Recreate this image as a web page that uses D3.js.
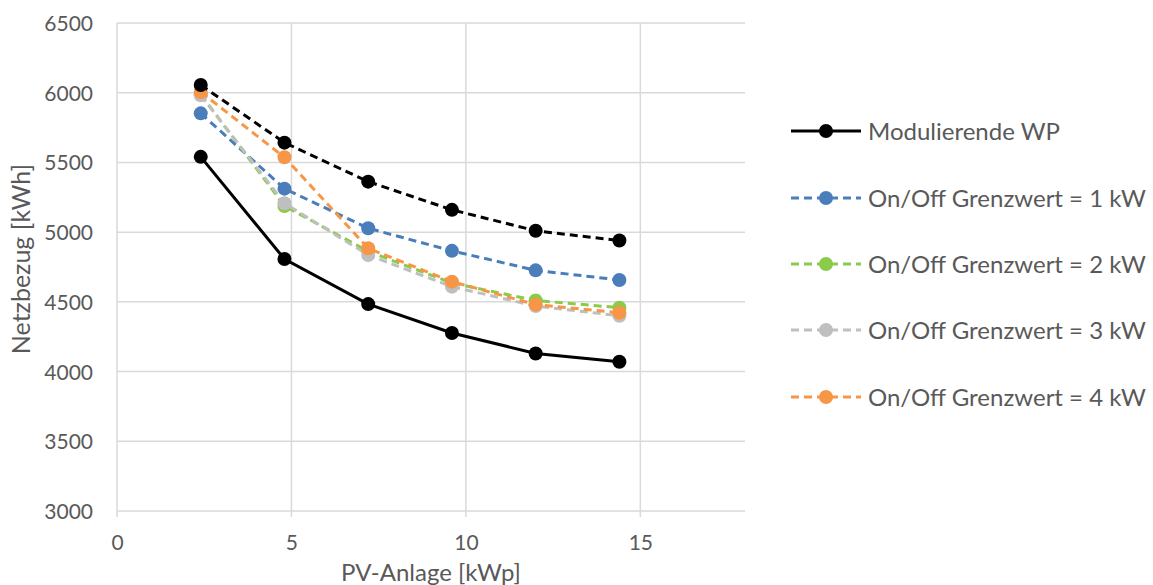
<!DOCTYPE html>
<html><head><meta charset="utf-8">
<script src="https://cdn.jsdelivr.net/npm/d3@7"></script>
<style>body{margin:0;background:#fff}svg{display:block}text{font-family:Lato,"Open Sans",sans-serif;fill:#595959}</style>
</head><body><svg id="c" width="1153" height="585"></svg>
<script>
const pvSizes = [2.4, 4.8, 7.2, 9.6, 12, 14.4];
const seriesNames = ["Modulierende WP","On/Off Grenzwert = 1 kW","On/Off Grenzwert = 2 kW","On/Off Grenzwert = 3 kW","On/Off Grenzwert = 4 kW",""];
const modulierend = [5540, 4807, 4484, 4277, 4130, 4070];
const onOff1 = [5852, 5312, 5028, 4866, 4726, 4657];
const onOff2 = [5988, 5188, 4862, 4635, 4510, 4458];
const onOff3 = [5982, 5207, 4836, 4609, 4470, 4400];
const onOff4 = [6005, 5537, 4884, 4645, 4480, 4422];
const unlabeled = [6055, 5642, 5362, 5160, 5010, 4940];
const xTicks = [0, 5, 10, 15];
const yTicks = [3000, 3500, 4000, 4500, 5000, 5500, 6000, 6500];
const xTitle = "PV-Anlage [kWp]";
const yTitle = "Netzbezug [kWh]";

const colors = ["#000000","#4a7ebb","#8acb4a","#bfbfbf","#f79646","#000000"];
const dashed = [false,true,true,true,true,true];
const values = [modulierend,onOff1,onOff2,onOff3,onOff4,unlabeled];
const inLegend = [true,true,true,true,true,false];

const svg = d3.select("#c");
const x = d3.scaleLinear().domain([0,18]).range([117,745]);
const y = d3.scaleLinear().domain([3000,6500]).range([511,23]);

// gridlines
svg.append("g").selectAll("line").data(yTicks).join("line")
  .attr("x1",x(0)).attr("x2",x(18)).attr("y1",d=>y(d)).attr("y2",d=>y(d))
  .attr("stroke","#d9d9d9").attr("stroke-width",1.5);
svg.append("g").selectAll("line").data(xTicks).join("line")
  .attr("x1",d=>x(d)).attr("x2",d=>x(d)).attr("y1",y(6500)).attr("y2",y(3000)+6)
  .attr("stroke","#d9d9d9").attr("stroke-width",1.5);

// axes labels
const xAxis = d3.axisBottom(x).tickValues(xTicks).tickFormat(d3.format("d")).tickSize(0).tickPadding(0);
const gx = svg.append("g").attr("transform",`translate(0,${y(3000)})`).call(xAxis);
gx.select(".domain").remove();
gx.selectAll("text").attr("font-size","21px").attr("dy","0").attr("y",39).style("font-family","Lato");
const yAxis = d3.axisLeft(y).tickValues(yTicks).tickFormat(d3.format("d")).tickSize(0).tickPadding(0);
const gy = svg.append("g").attr("transform",`translate(93,0)`).call(yAxis);
gy.select(".domain").remove();
gy.selectAll("text").attr("font-size","21px").attr("dy","0.36em").style("font-family","Lato");
gx.selectAll("text").attr("fill","#595959"); gy.selectAll("text").attr("fill","#595959");

svg.append("text").attr("x",431).attr("y",581).attr("text-anchor","middle").attr("font-size","24px").text(xTitle);
svg.append("text").attr("transform","translate(30,259) rotate(-90)").attr("text-anchor","middle").attr("font-size","25px").text(yTitle);

// series
const line = d3.line().x((d,i)=>x(pvSizes[i])).y(d=>y(d));
values.forEach((vals,k)=>{
  const g = svg.append("g");
  g.append("path").attr("d",line(vals)).attr("fill","none").attr("stroke",colors[k])
    .attr("stroke-width",3).attr("stroke-dasharray",dashed[k]?"8,5":null);
  g.selectAll("circle").data(vals).join("circle")
    .attr("cx",(d,i)=>x(pvSizes[i])).attr("cy",d=>y(d)).attr("r",7).attr("fill",colors[k]);
});

// legend
const legendY = [131, 198, 264, 330, 397];
let li = 0;
values.forEach((vals,k)=>{
  if(!inLegend[k]) return;
  const ly = legendY[li++];
  const g = svg.append("g");
  g.append("line").attr("x1",791).attr("x2",861).attr("y1",ly).attr("y2",ly).attr("stroke",colors[k])
    .attr("stroke-width",3).attr("stroke-dasharray",dashed[k]?"8,5":null);
  g.append("circle").attr("cx",826).attr("cy",ly).attr("r",7).attr("fill",colors[k]);
  g.append("text").attr("x",868).attr("y",ly).attr("dy","0.36em").attr("font-size","24px").text(seriesNames[k]);
});
</script></body></html>
